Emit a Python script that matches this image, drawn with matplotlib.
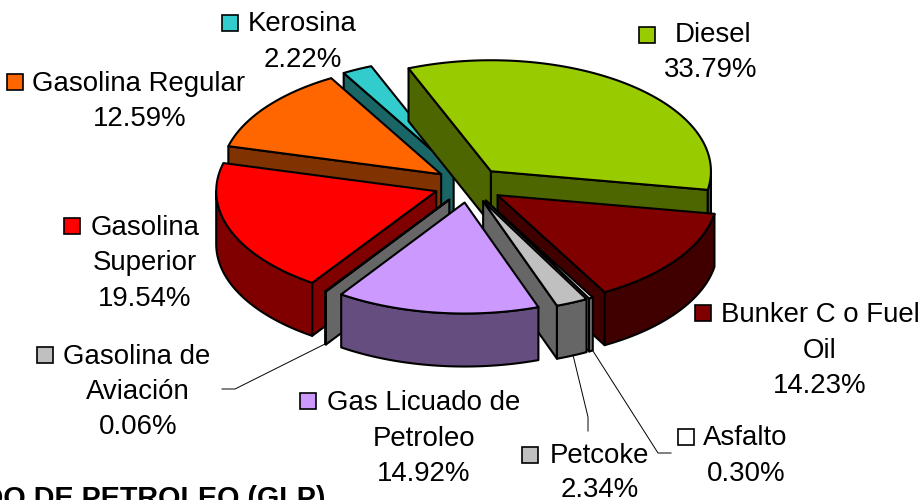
import numpy as np
import matplotlib
matplotlib.use('Agg')
import matplotlib.pyplot as plt
from matplotlib.patches import Polygon, Rectangle

plt.rcParams['font.family'] = ['Liberation Sans', 'DejaVu Sans']

# Values in clockwise order starting at Diesel
names = ['Diesel', 'Bunker C o Fuel Oil', 'Asfalto', 'Petcoke', 'Gas Licuado de Petroleo',
         'Gasolina de Aviación', 'Gasolina Superior', 'Gasolina Regular', 'Kerosina']
shares = [33.79, 14.23, 0.30, 2.34, 14.92, 0.06, 19.54, 12.59, 2.22]

top_colors = ['#99cc00', '#800000', '#ffffff', '#c0c0c0', '#cc99ff', '#c0c0c0', '#ff0000', '#ff6600', '#33cccc']
side_colors = ['#4d6600', '#400000', '#808080', '#666666', '#664d80', '#666666', '#800000', '#803300', '#1a6666']

# label lines and where they go: (line, x centre, y centre)
label_lines = [
    [('Diesel', 713, 35), ('33.79%', 711, 70)],
    [('Bunker C o Fuel', 820, 315), ('Oil', 820, 351), ('14.23%', 820, 386)],
    [('Asfalto', 745, 438), ('0.30%', 746, 474)],
    [('Petcoke', 599, 456), ('2.34%', 600, 490)],
    [('Gas Licuado de', 424, 403), ('Petroleo', 424, 439), ('14.92%', 424, 474)],
    [('Gasolina de', 137, 357), ('Aviación', 138, 392), ('0.06%', 138, 427)],
    [('Gasolina', 145, 228), ('Superior', 145, 263), ('19.54%', 145, 299)],
    [('Gasolina Regular', 139, 84), ('12.59%', 140, 119)],
    [('Kerosina', 302, 24), ('2.22%', 303, 60)],
]
key_pos = [(639, 27), (695, 305), (678, 429), (522, 447), (300, 393), (37, 347), (64, 218), (7, 74), (222, 15)]

leaders = [
    ([222, 235, 327], [389, 389, 343]),
    ([588, 588, 573], [431, 417, 355]),
    ([671, 658, 593], [453, 453, 351]),
]

# pie geometry in pixels
cx, cy = 469, 185
rx, ry = 220, 111
depth = 53
explode = 35
start = -22
# back to front, indexes into the lists above
draw_order = [8, 0, 7, 6, 5, 1, 2, 3, 4]

fig = plt.figure(figsize=(9.22, 5), dpi=100)
ax = fig.add_axes([0, 0, 1, 1])
ax.set_xlim(0, 922)
ax.set_ylim(500, 0)
ax.axis('off')


def rim(t):
    t = np.radians(t)
    return rx * np.sin(t), -ry * np.cos(t)


edges = start + np.cumsum([0] + shares) * 360 / sum(shares)

for i in draw_order:
    t0, t1 = edges[i], edges[i + 1]
    mid = (t0 + t1) / 2
    ox = cx + explode * np.sin(np.radians(mid))
    oy = cy - explode * ry / rx * np.cos(np.radians(mid))

    # radial faces
    for t, seen in ((t0, np.sin(np.radians(t0)) < 0), (t1, np.sin(np.radians(t1)) > 0)):
        if seen:
            x, y = rim(t)
            face = [(ox, oy), (ox + x, oy + y), (ox + x, oy + y + depth), (ox, oy + depth)]
            ax.add_patch(Polygon(face, fc=side_colors[i], ec='black', lw=1.5, joinstyle='round'))

    # outer wall, only the part facing the viewer
    a0, a1 = max(t0, 90), min(t1, 270)
    if a0 < a1:
        ts = np.linspace(a0, a1, 60)
        x, y = rim(ts)
        wall = np.r_[np.c_[ox + x, oy + y], np.c_[ox + x, oy + y + depth][::-1]]
        ax.add_patch(Polygon(wall, fc=side_colors[i], ec='black', lw=1.5, joinstyle='round'))

    # top
    ts = np.linspace(t0, t1, 80)
    x, y = rim(ts)
    top = np.r_[[[ox, oy]], np.c_[ox + x, oy + y]]
    ax.add_patch(Polygon(top, fc=top_colors[i], ec='black', lw=1.5, joinstyle='round'))

for lx, ly in leaders:
    ax.plot(lx, ly, color='black', lw=0.7)

for i, lines in enumerate(label_lines):
    for text, x, y in lines:
        ax.text(x, y, text, ha='center', va='center', fontsize=19.9, color='black')
    ax.add_patch(Rectangle(key_pos[i], 16, 16, fc=top_colors[i], ec='black', lw=1.2))

# cut off by the bottom of the image in the original
ax.text(325, 507, 'GAS LICUADO DE PETROLEO (GLP)', ha='right', va='baseline',
        fontsize=20.7, fontweight='bold', color='black')

fig.savefig('out.png', dpi=100)
